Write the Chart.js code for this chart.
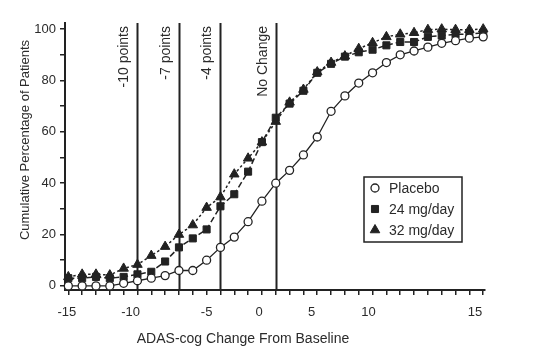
<!DOCTYPE html>
<html>
<head>
<meta charset="utf-8">
<script src="https://cdn.jsdelivr.net/npm/chart.js@4"></script>
<style>
html, body { margin: 0; padding: 0; background: #fff; }
</style>
</head>
<body>
<canvas id="myChart" width="536" height="358"></canvas>
<script>
// ADAS-cog change from baseline (x) and cumulative % of patients (y)
const changeValues = [-15, -14, -13, -12, -11, -10, -9, -8, -7, -6, -5, -4, -3, -2, -1, 0,
  1, 2, 3, 4, 5, 6, 7, 8, 9, 10, 11, 12, 13, 14, 15];
const placebo = [0, 0, 0, 0, 1, 2, 3, 4, 6, 6, 10, 15, 19, 25, 33, 40,
  45, 51, 58, 68, 74, 79, 83, 87, 90, 91.5, 93, 94.5, 95.5, 96.5, 97];
const mg24 = [3, 3, 3.5, 3, 3.5, 4.5, 5.5, 9.5, 15, 18.5, 22, 31, 35.7, 44.5, 56, 65.5,
  71, 76, 83, 86.5, 89.3, 91, 92, 93.7, 95, 95, 97, 97.5, 98, 98, 98.6];
const mg32 = [3.5, 4.5, 4.5, 4.2, 6.8, 8.3, 11.8, 15.3, 20, 23.7, 30.5, 34.6, 43.5, 49.7, 56, 64,
  71.5, 76.5, 83.3, 87, 89.5, 92.4, 94.7, 97, 98, 98.6, 99.8, 100, 99.8, 99.8, 100];
const seriesNames = ["Placebo", "24 mg/day", "32 mg/day"];

const refLines = [-10, -7, -4, 0];
const refLabels = ["-10 points", "-7 points", "-4 points", "No Change"];

const yTicks = [0, 10, 20, 30, 40, 50, 60, 70, 80, 90, 100];
const yTickLabels = ["0", "", "20", "", "40", "", "60", "", "80", "", "100"];
const xTicks = changeValues;
// the printed x labels sit where the original figure put them
const xTickLabels = ["-15", "-10", "-5", "0", "5", "10", "15"];
const xTickAt = [-15.1, -10.5, -5, -1.2, 2.6, 6.7, 14.4];

const xTitle = "ADAS-cog Change From Baseline";
const yTitle = "Cumulative Percentage of Patients";

const INK = "#222";
const TEXT = "#2b2b2b";
const FONT = "'Liberation Sans', Arial, sans-serif";
Chart.defaults.font.family = FONT;
Chart.defaults.color = TEXT;

function pts(ys) {
  return changeValues.map((x, i) => ({ x: x, y: ys[i] }));
}

const extras = {
  id: "extras",
  beforeDatasetsDraw(chart) {
    const ctx = chart.ctx, a = chart.chartArea;
    const xs = chart.scales.x;
    ctx.save();
    ctx.strokeStyle = INK;
    ctx.lineWidth = 2;
    ctx.fillStyle = TEXT;
    ctx.font = "14px " + FONT;
    refLines.forEach((v, i) => {
      const px = Math.round(xs.getPixelForValue(v)) + 0.5;
      ctx.beginPath();
      ctx.moveTo(px, a.top);
      ctx.lineTo(px, a.bottom);
      ctx.stroke();
      ctx.save();
      ctx.translate(px - 13, a.top + 3);
      ctx.rotate(-Math.PI / 2);
      ctx.textAlign = "right";
      ctx.textBaseline = "middle";
      ctx.fillText(refLabels[i], 0, 0);
      ctx.restore();
    });
    ctx.restore();
  },
  afterDraw(chart) {
    const ctx = chart.ctx, a = chart.chartArea;
    ctx.save();
    // axis titles
    ctx.fillStyle = TEXT;
    ctx.font = "14px " + FONT;
    ctx.textAlign = "center";
    ctx.textBaseline = "middle";
    ctx.fillText(xTitle, a.left + 178, 339);
    ctx.save();
    ctx.font = "13px " + FONT;
    ctx.translate(25, a.top + 117);
    ctx.rotate(-Math.PI / 2);
    ctx.fillText(yTitle, 0, 0);
    ctx.restore();

    // legend box
    const bx = a.right - 121, by = a.top + 154, bw = 98, bh = 65;
    ctx.fillStyle = "#fff";
    ctx.fillRect(bx, by, bw, bh);
    ctx.strokeStyle = INK;
    ctx.lineWidth = 1.5;
    ctx.strokeRect(bx, by, bw, bh);
    ctx.font = "14px " + FONT;
    ctx.textAlign = "left";
    chart.data.datasets.forEach((ds, i) => {
      const cy = by + 11 + i * 21;
      ctx.fillStyle = ds.pointBackgroundColor;
      ctx.strokeStyle = ds.pointBorderColor;
      ctx.lineWidth = ds.pointBorderWidth;
      Chart.helpers.drawPoint(ctx, {
        pointStyle: ds.pointStyle, radius: ds.pointRadius, borderWidth: ds.pointBorderWidth, rotation: 0
      }, bx + 11, cy);
      ctx.fillStyle = TEXT;
      ctx.fillText(ds.label, bx + 25, cy + 1);
    });
    ctx.restore();
  }
};

const ctx = document.getElementById("myChart").getContext("2d");
new Chart(ctx, {
  type: "line",
  data: {
    datasets: [{
      label: seriesNames[0],
      data: pts(placebo),
      borderColor: INK,
      borderWidth: 1.3,
      pointStyle: "circle",
      pointRadius: 4,
      pointBackgroundColor: "#fff",
      pointBorderColor: INK,
      pointBorderWidth: 1.3
    }, {
      label: seriesNames[1],
      data: pts(mg24),
      borderColor: INK,
      borderWidth: 1.5,
      borderDash: [6, 3],
      pointStyle: "rect",
      pointRadius: 5,
      pointBackgroundColor: INK,
      pointBorderColor: INK,
      pointBorderWidth: 1
    }, {
      label: seriesNames[2],
      data: pts(mg32),
      borderColor: INK,
      borderWidth: 1.5,
      borderDash: [2.5, 2.5],
      pointStyle: "triangle",
      pointRadius: 5.5,
      pointBackgroundColor: INK,
      pointBorderColor: INK,
      pointBorderWidth: 1
    }]
  },
  options: {
    responsive: false,
    animation: false,
    devicePixelRatio: 1,
    clip: false,
    layout: { padding: { left: 0, right: 51, top: 23, bottom: 0 } },
    plugins: {
      legend: { display: false },
      tooltip: { enabled: false }
    },
    scales: {
      x: {
        type: "linear",
        position: "bottom",
        weight: 0,
        min: -15.24,
        max: 15.13,
        afterBuildTicks: s => { s.ticks = xTicks.map(v => ({ value: v })); },
        afterFit: s => { s.height = 5; },
        ticks: { display: false },
        grid: { drawOnChartArea: false, tickLength: 5, tickColor: INK, lineWidth: 1.5 },
        border: { color: INK, width: 2 }
      },
      xl: {
        type: "linear",
        position: "bottom",
        weight: 1,
        min: -15.24,
        max: 15.13,
        afterBuildTicks: s => { s.ticks = xTickAt.map(v => ({ value: v })); },
        afterFit: s => { s.height = 63; },
        ticks: {
          autoSkip: false,
          maxRotation: 0,
          padding: 2,
          font: { size: 13 },
          callback: (v, i) => xTickLabels[i]
        },
        grid: { display: false },
        border: { display: false }
      },
      y: {
        min: -1.6,
        max: 102.4,
        afterBuildTicks: s => { s.ticks = yTicks.map(v => ({ value: v })); },
        afterFit: s => { s.width = 65; },
        ticks: {
          padding: 4,
          font: { size: 13 },
          callback: (v, i) => yTickLabels[i]
        },
        grid: { drawOnChartArea: false, tickLength: 5, tickColor: INK, lineWidth: 1.5 },
        border: { color: INK, width: 2 }
      }
    }
  },
  plugins: [extras]
});
</script>
</body>
</html>
